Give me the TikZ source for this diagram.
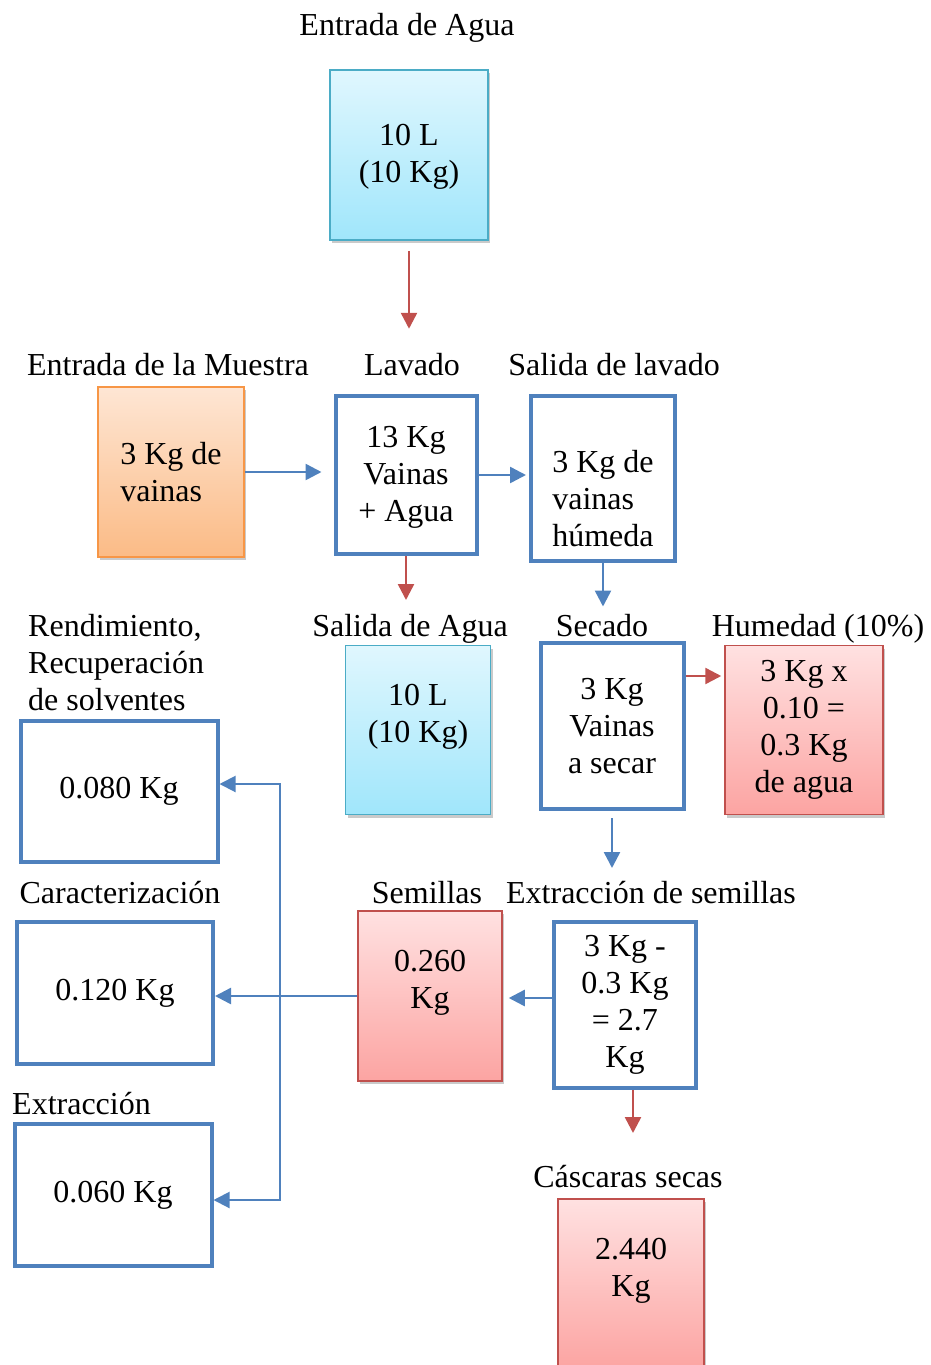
\documentclass[tikz,border=0pt]{standalone}
\usepackage{fontspec}
\setmainfont{Liberation Serif}
\usetikzlibrary{arrows.meta,shadows}
\definecolor{azul}{HTML}{4F81BD}
\definecolor{rojo}{HTML}{C0504D}
\definecolor{cianBorde}{HTML}{4BACC6}
\definecolor{cianArriba}{HTML}{E0F7FE}
\definecolor{cianAbajo}{HTML}{A0E6FB}
\definecolor{naranjaBorde}{HTML}{F79646}
\definecolor{naranjaArriba}{HTML}{FEE6D4}
\definecolor{naranjaAbajo}{HTML}{FBBB86}
\definecolor{rosaArriba}{HTML}{FFE1E1}
\definecolor{rosaAbajo}{HTML}{FCA4A2}

\begin{document}
\begin{tikzpicture}[x=1pt,y=-1pt,
  every node/.style={font=\fontsize{32}{37}\selectfont},
  titulo/.style={inner sep=0pt,anchor=base},
  proceso/.style={draw=azul,line width=4pt,align=center,inner sep=0pt},
  sombra/.style={line width=1.5pt,align=center,inner sep=0pt,
    drop shadow={shadow xshift=2pt,shadow yshift=-3pt,opacity=0.35,fill=black!60}},
  agua/.style={sombra,draw=cianBorde,top color=cianArriba,bottom color=cianAbajo},
  muestra/.style={sombra,draw=naranjaBorde,top color=naranjaArriba,bottom color=naranjaAbajo},
  salida/.style={sombra,draw=rojo,top color=rosaArriba,bottom color=rosaAbajo},
  flechaA/.style={draw=azul,line width=2.5pt,-{Triangle[length=16pt,width=16pt]}},
  flechaR/.style={draw=rojo,line width=2.5pt,-{Triangle[length=16pt,width=16pt]}}]
  \useasboundingbox (0,0) rectangle (930,1365);

  \node[titulo] (tEntAgua) at (407,35) {Entrada de Agua};
  \node[agua,minimum width=158pt,minimum height=170pt] (entAgua) at (409,155) {\strut10 L\\(10 Kg)};

  \node[titulo] (tMuestra) at (168,375) {Entrada de la Muestra};
  \node[muestra,minimum width=146pt,minimum height=170pt,align=left] (muestra) at (171,472) {3 Kg de\\vainas};
  \node[titulo] (tLavado) at (412,375) {Lavado};
  \node[proceso,minimum width=141pt,minimum height=158pt] (lavado) at (406,475) {\strut13 Kg\\Vainas\\+ Agua};
  \node[titulo] (tSalLav) at (614,375) {Salida de lavado};
  \node[proceso,minimum width=144pt,minimum height=165pt,align=left] (salLav) at (603,478) {\strut\\3 Kg de\\vainas\\húmeda};

  \node[titulo,anchor=base west,align=left] (tRend) at (28,710) {Rendimiento,\\Recuperación\\de solventes};
  \node[titulo] (tSalAgua) at (410,636) {Salida de Agua};
  \node[agua,minimum width=145pt,minimum height=169pt] (salAgua) at (418,730) {10 L\\(10 Kg)\\[-14pt]\strut};
  \node[titulo] (tSecado) at (602,636) {Secado};
  \node[proceso,minimum width=143pt,minimum height=166pt] (secado) at (612,726) {3 Kg\\Vainas\\a secar};
  \node[titulo] (tHumedad) at (818,636) {Humedad (10\%)};
  \node[salida,minimum width=158pt,minimum height=169pt] (humedad) at (804,730) {3 Kg x\\0.10 =\\0.3 Kg\\de agua};

  \node[proceso,minimum width=197pt,minimum height=141pt] (rend) at (119,791) {0.080 Kg};
  \node[titulo] (tCaract) at (120,903) {Caracterización};
  \node[proceso,minimum width=196pt,minimum height=142pt] (caract) at (115,993) {0.120 Kg};
  \node[titulo,anchor=base west] (tExtr) at (12,1114) {Extracción};
  \node[proceso,minimum width=197pt,minimum height=142pt] (extr) at (113,1195) {0.060 Kg};

  \node[titulo] (tSemillas) at (427,903) {Semillas};
  \node[salida,minimum width=144pt,minimum height=170pt] (semillas) at (430,996) {0.260\\Kg\\[-14pt]\strut};
  \node[titulo] (tExtSem) at (651,903) {Extracción de semillas};
  \node[proceso,minimum width=142pt,minimum height=166pt] (extSem) at (625,1005) {3 Kg -\\0.3 Kg\\= 2.7\\Kg};
  \node[titulo] (tCascaras) at (628,1187) {Cáscaras secas};
  \node[salida,minimum width=146pt,minimum height=170pt] (cascaras) at (631,1284) {2.440\\Kg\\[-14pt]\strut};

  \draw[flechaR,shorten <=10pt] (entAgua.south) -- ++(0,88);
  \draw[flechaA,shorten >=12pt] (muestra.east) -- (muestra.east -| lavado.west);
  \draw[flechaA,shorten >=3pt] (lavado.east) -- (lavado.east -| salLav.west);
  \draw[flechaR] (lavado.south) -- ++(0,44);
  \draw[flechaA] (salLav.south) -- ++(0,44);
  \draw[flechaR,shorten >=3pt] ([yshift=50pt]secado.east) -- ([yshift=50pt]secado.east -| humedad.west);
  \draw[flechaA,shorten <=7pt] (secado.south) -- ++(0,57);
  \draw[flechaA,shorten >=6pt] ([yshift=7pt]extSem.west) -- ([yshift=7pt]extSem.west -| semillas.east);
  \draw[flechaR] ([xshift=8pt]extSem.south) -- ++(0,43);
  \draw[flechaA] (semillas.west) -- (semillas.west -| caract.east);
  \coordinate (enlace) at (280,996);
  \draw[flechaA,line width=2pt] (enlace) |- ([yshift=7pt]rend.east);
  \draw[flechaA,line width=2pt] (enlace) |- ([yshift=-5pt]extr.east);
\end{tikzpicture}
\end{document}
